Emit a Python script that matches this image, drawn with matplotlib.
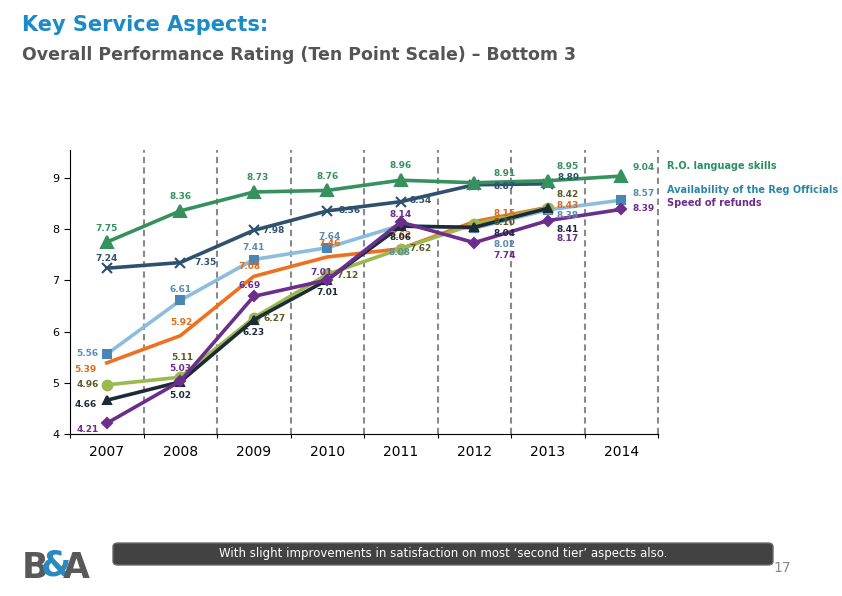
import numpy as np
import matplotlib.pyplot as plt
from matplotlib.patches import FancyBboxPatch

years = ["2007", "2008", "2009", "2010", "2011", "2012", "2013", "2014"]

# values (nan = no point that year)
ro_language = [7.75, 8.36, 8.73, 8.76, 8.96, 8.91, 8.95, 9.04]
dark_x = [7.24, 7.35, 7.98, 8.36, 8.54, 8.87, 8.89, np.nan]
availability = [5.56, 6.61, 7.41, 7.64, 8.08, 8.02, 8.38, 8.57]
orange = [5.39, 5.92, 7.08, 7.46, 7.62, 8.15, 8.43, np.nan]
olive = [4.96, 5.11, 6.27, 7.12, 7.62, 8.10, 8.42, np.nan]
black = [4.66, 5.02, 6.23, 7.01, 8.06, 8.04, 8.41, np.nan]
refunds = [4.21, 5.03, 6.69, 7.01, 8.14, 7.74, 8.17, 8.39]

# label offsets in pixels (dx, dy) for each point
off_green = [(0, 14), (0, 14), (4, 14), (0, 14), (0, 15), (30, 9), (20, 14), (22, 9)]
off_darkx = [(0, 10), (25, 0), (20, 0), (22, 0), (20, 1), (30, -2), (21, 6), None]
off_avail = [(-19, 1), (0, 11), (0, 12), (2, 11), (-1, -27), (30, -16), (20, -6), (22, 7)]
off_orange = [(-21, -7), (1, 13), (-4, 10), (2, 13), (0, 13), (30, 8), (20, 2), None]
off_olive = [(-19, 0), (2, 20), (21, -1), (20, -1), (20, 0), (30, 2), (20, 13), None]
off_black = [(-21, -4), (0, -14), (0, -13), (0, -13), (0, -11), (30, -6), (20, -21), None]
off_refunds = [(-19, -6), (0, 13), (-4, 11), (-6, 7), (0, 8), (30, -13), (20, -18), (22, 1)]

series = [
    # values, line colour, marker, marker colour, label colour, offsets, marker size
    (availability, "#8cbddd", "s", "#4a86b4", "#5a8cae", off_avail, 6),
    (orange, "#f07020", None, "#f07020", "#e06a1a", off_orange, 0),
    (olive, "#9bb94f", "o", "#9bb94f", "#5b5b28", off_olive, 7),
    (black, "#1d2b38", "^", "#1d2b38", "#1d2b38", off_black, 6),
    (refunds, "#6b2e8c", "D", "#6b2e8c", "#6b2e8c", off_refunds, 5),
    (dark_x, "#2f516e", "x", "#2f516e", "#2f516e", off_darkx, 7),
    (ro_language, "#37915f", "^", "#37915f", "#37915f", off_green, 8),
]

fig = plt.figure(figsize=(8.42, 5.96), dpi=100)
ax = fig.add_axes([70 / 842, 1 - 434 / 596, (658 - 70) / 842, (434 - 150) / 596])

x = np.arange(len(years))
for vals, col, mk, mcol, lcol, offs, ms in series:
    v = np.array(vals, dtype=float)
    ax.plot(x, v, color=col, lw=2.6, marker=mk, markersize=ms,
            markerfacecolor=mcol, markeredgecolor=mcol, markeredgewidth=1.5, zorder=3)
    for i, val in enumerate(v):
        if np.isnan(val) or offs[i] is None:
            continue
        dx, dy = offs[i]
        ax.annotate(f"{val:.2f}", (i, val), xytext=(dx, dy), textcoords="offset pixels",
                    ha="center", va="center", fontsize=6.5, fontweight="bold",
                    color=lcol, zorder=5)

for b in np.arange(0.5, 8, 1):
    ax.axvline(b, color="#8a8a8a", ls=(0, (3, 2)), lw=1.5, zorder=1, clip_on=False)

ax.set_xlim(-0.5, 7.5)
ax.set_ylim(4, 9.55)
ax.set_yticks([4, 5, 6, 7, 8, 9])
ax.tick_params(axis="y", labelsize=8, length=4, direction="out")
ax.set_xticks(np.arange(-0.5, 8, 1))
ax.set_xticklabels([])
ax.tick_params(axis="x", length=3, direction="out")
for i, y in enumerate(years):
    ax.text(i, -0.04, y, transform=ax.get_xaxis_transform(), ha="center", va="top", fontsize=10)
ax.spines["top"].set_visible(False)
ax.spines["right"].set_visible(False)

# legend as coloured text on the right
fig.text(667 / 842, 1 - 166 / 596, "R.O. language skills", color="#2a9060",
         fontsize=7, fontweight="bold", va="center")
fig.text(667 / 842, 1 - 190 / 596, "Availability of the Reg Officials", color="#2a86a8",
         fontsize=7, fontweight="bold", va="center")
fig.text(667 / 842, 1 - 203 / 596, "Speed of refunds", color="#6b2e8c",
         fontsize=7, fontweight="bold", va="center")

# titles
fig.text(22 / 842, 1 - 25 / 596, "Key Service Aspects:", color="#1a8ac8",
         fontsize=15, fontweight="bold", va="center")
fig.text(22 / 842, 1 - 55 / 596, "Overall Performance Rating (Ten Point Scale) \u2013 Bottom 3",
         color="#555555", fontsize=12.5, fontweight="bold", va="center")

# footer box
box = FancyBboxPatch((113 / 842, 1 - 565 / 596), (773 - 113) / 842, 22 / 596,
                     boxstyle="round,pad=0,rounding_size=0.006", transform=fig.transFigure,
                     facecolor="#424242", edgecolor="#6a6a6a", lw=1)
fig.patches.append(box)
fig.text(443 / 842, 1 - 554 / 596,
         "With slight improvements in satisfaction on most \u2018second tier\u2019 aspects also.",
         color="white", fontsize=8.5, ha="center", va="center")
fig.text(782 / 842, 1 - 568 / 596, "17", color="#888888", fontsize=10, ha="center", va="center")

# logo
fig.text(22 / 842, 1 - 568 / 596, "B", color="#595959", fontsize=25, fontweight="bold", va="center")
fig.text(41 / 842, 1 - 566 / 596, "&", color="#2a8ac0", fontsize=25, fontweight="bold", va="center")
fig.text(63 / 842, 1 - 568 / 596, "A", color="#595959", fontsize=25, fontweight="bold", va="center")

fig.savefig("out.png", dpi=100)
